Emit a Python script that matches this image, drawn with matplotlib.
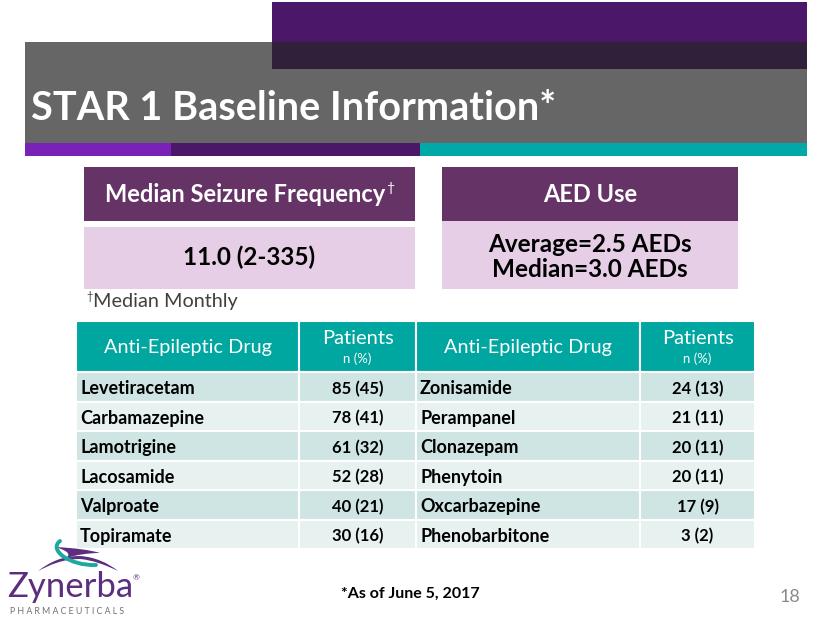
import matplotlib
matplotlib.use("Agg")
import matplotlib.pyplot as plt
from matplotlib.patches import Rectangle, PathPatch
from matplotlib.path import Path

# ---- data ----
title = "STAR 1 Baseline Information*"
box_headers = ["Median Seizure Frequency", "AED Use"]
box_header_marks = ["\u2020", ""]
box_values = ["11.0 (2-335)", "Average=2.5 AEDs\nMedian=3.0 AEDs"]
footnote_mark = "\u2020"
footnote = "Median Monthly"
table_headers = ["Anti-Epileptic Drug", "Patients", "Anti-Epileptic Drug", "Patients"]
table_subheader = "n (%)"
drugs_left = ["Levetiracetam", "Carbamazepine", "Lamotrigine", "Lacosamide", "Valproate", "Topiramate"]
patients_left = ["85 (45)", "78 (41)", "61 (32)", "52 (28)", "40 (21)", "30 (16)"]
drugs_right = ["Zonisamide", "Perampanel", "Clonazepam", "Phenytoin", "Oxcarbazepine", "Phenobarbitone"]
patients_right = ["24 (13)", "21 (11)", "20 (11)", "20 (11)", "17 (9)", "3 (2)"]
date_note = "*As of June 5, 2017"
page_no = "18"

FONT = "Lato"
W, H = 830, 623
fig = plt.figure(figsize=(W / 100, H / 100), dpi=100)
ax = fig.add_axes([0, 0, 1, 1])
ax.set_xlim(0, W)
ax.set_ylim(H, 0)
ax.axis("off")
renderer = fig.canvas.get_renderer()

def rect(x0, y0, x1, y1, color, **kw):
    ax.add_patch(Rectangle((x0, y0), x1 - x0, y1 - y0, facecolor=color, edgecolor="none", **kw))

def text_width(s, **kw):
    t = ax.text(0, 0, s, **kw)
    bb = t.get_window_extent(renderer=renderer)
    t.remove()
    return bb.width  # pixels == data units here

# ---- title banner ----
rect(272, 2, 807, 70, "#4b1869")
rect(25, 42, 807, 143, "#666666")
rect(272, 42, 807, 69, "#30203a")
rect(25, 143, 171, 156, "#7a22b8")
rect(171, 143, 420, 156, "#4b1869")
rect(420, 143, 807, 156, "#00a8a8")
ax.text(31, 108, title, color="white", fontsize=28.5, fontweight="bold",
        family=FONT, ha="left", va="center")

# ---- info boxes ----
boxes = [(84, 415, 227), (442, 738, 221)]
for (x0, x1, ytop), hdr, mark, val in zip(boxes, box_headers, box_header_marks, box_values):
    rect(x0, 167, x1, 221, "#663366")
    rect(x0, ytop, x1, 289, "#e6cfe6")
    kw = dict(color="white", fontsize=17, fontweight="bold", family=FONT)
    wm = text_width(mark, color="white", fontsize=10, family=FONT) if mark else 0
    wh = text_width(hdr, **kw)
    xs = (x0 + x1) / 2 - (wh + wm) / 2
    ax.text(xs, 195, hdr, ha="left", va="center", **kw)
    if mark:
        ax.text(xs + wh + 1, 188, mark, color="white", fontsize=10, family=FONT,
                ha="left", va="center")
    ax.text((x0 + x1) / 2, 257, val, color="black", fontsize=17.5, fontweight="bold",
            family=FONT, ha="center", va="center", linespacing=1.15)
ax.text(86, 296, footnote_mark, color="#404040", fontsize=8, family=FONT, ha="left", va="center")
ax.text(93, 301, footnote, color="#404040", fontsize=14.3, family=FONT, ha="left", va="center")

# ---- table ----
col_x = [76, 299, 416, 640, 755]
hdr_top, hdr_bot = 321, 372
tbl_bot = 549
row_h = (tbl_bot - hdr_bot) / len(drugs_left)
for i in range(4):
    ax.add_patch(Rectangle((col_x[i], hdr_top), col_x[i + 1] - col_x[i], hdr_bot - hdr_top,
                           facecolor="#00a6a0", edgecolor="white", linewidth=1.5))
    cx = (col_x[i] + col_x[i + 1]) / 2
    if i % 2 == 0:
        ax.text(cx, 347, table_headers[i], color="white", fontsize=14.3, family=FONT,
                ha="center", va="center")
    else:
        ax.text(cx, 339, table_headers[i], color="white", fontsize=14.5, family=FONT,
                ha="center", va="center")
        ax.text(cx, 359, table_subheader, color="white", fontsize=9.5, family=FONT,
                ha="center", va="center")

for r in range(len(drugs_left)):
    y0 = hdr_bot + r * row_h
    color = "#cfe5e3" if r % 2 == 0 else "#e6f1f0"
    cells = [drugs_left[r], patients_left[r], drugs_right[r], patients_right[r]]
    for i in range(4):
        ax.add_patch(Rectangle((col_x[i], y0), col_x[i + 1] - col_x[i], row_h,
                               facecolor=color, edgecolor="white", linewidth=1.5))
        yc = y0 + row_h / 2 + 2
        if i % 2 == 0:
            ax.text(col_x[i] + 4, yc, cells[i], color="black", fontsize=13,
                    fontweight="bold", family=FONT, ha="left", va="center")
        else:
            ax.text((col_x[i] + col_x[i + 1]) / 2, yc, cells[i], color="black",
                    fontsize=12, fontweight="bold", family=FONT, ha="center", va="center")

# ---- footer ----
ax.text(410, 594, date_note, color="black", fontsize=11.5, fontweight="bold", family=FONT,
        ha="center", va="center")
ax.text(790, 597, page_no, color="#8a8a8a", fontsize=13, family=FONT, ha="center", va="center")

# ---- logo ----
purple = "#5b2e7e"
teal = "#1aa9a0"
top_wedge = Path([(55, 547), (75, 548), (90, 550), (100, 553),
                  (88, 553), (76, 555), (66, 558),
                  (72, 554), (66, 550), (55, 547)],
                 [Path.MOVETO, Path.CURVE4, Path.CURVE4, Path.CURVE4,
                  Path.CURVE4, Path.CURVE4, Path.CURVE4,
                  Path.CURVE4, Path.CURVE4, Path.CURVE4])
ax.add_patch(PathPatch(top_wedge, facecolor=purple, edgecolor="none"))
tail = Path([(38, 571), (50, 562), (62, 556), (80, 556),
             (95, 557), (108, 563), (118, 571),
             (106, 565), (92, 560), (80, 559),
             (62, 559), (50, 565), (38, 571)],
            [Path.MOVETO, Path.CURVE4, Path.CURVE4, Path.CURVE4,
             Path.CURVE4, Path.CURVE4, Path.CURVE4,
             Path.CURVE4, Path.CURVE4, Path.CURVE4,
             Path.CURVE4, Path.CURVE4, Path.CURVE4])
ax.add_patch(PathPatch(tail, facecolor=purple, edgecolor="none"))
arc = Path([(60, 541), (48, 550), (70, 566), (96, 565)],
           [Path.MOVETO, Path.CURVE4, Path.CURVE4, Path.CURVE4])
ax.add_patch(PathPatch(arc, facecolor="none", edgecolor=teal, linewidth=2.8, capstyle="round"))
ax.text(7, 587, "Zynerba", color=purple, fontsize=25, family=FONT, ha="left", va="center")
ax.text(133, 578, "\u00ae", color=purple, fontsize=6, family=FONT, ha="left", va="center")
ax.text(10, 611, " ".join("PHARMACEUTICALS"), color="#707070", fontsize=6.3,
        family=FONT, ha="left", va="center")

fig.savefig("out.png", dpi=100, facecolor="white")
